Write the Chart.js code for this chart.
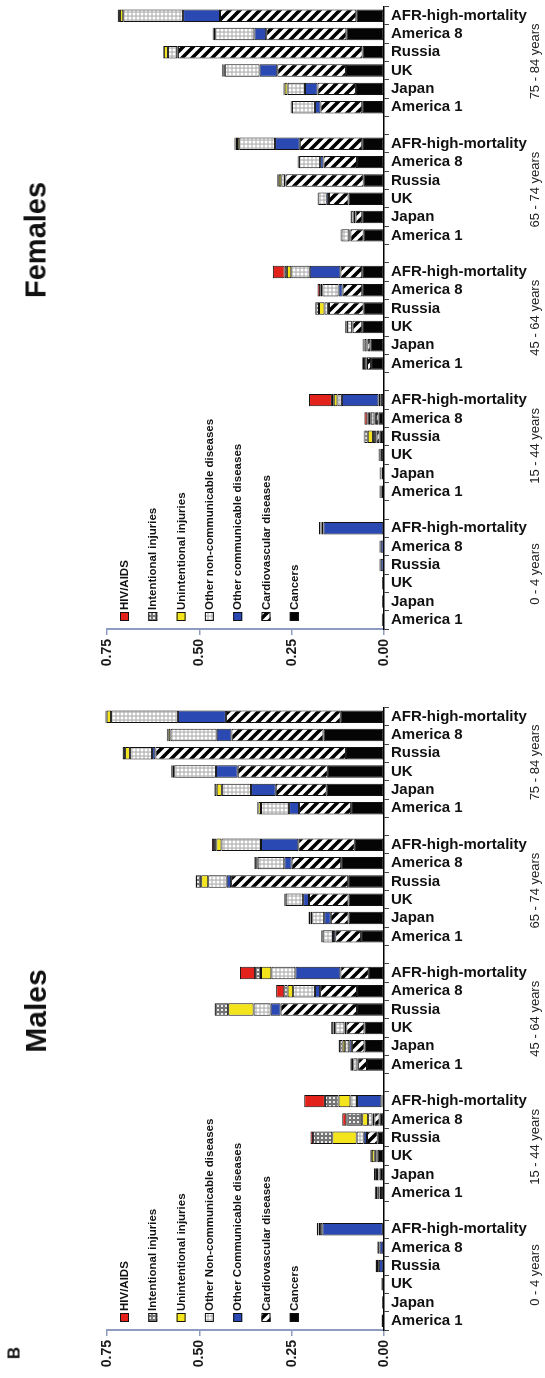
<!DOCTYPE html>
<html>
<head>
<meta charset="utf-8">
<title>Mortality by cause, age group and region</title>
<script src="https://cdn.jsdelivr.net/npm/chart.js@4.4.1/dist/chart.umd.min.js"></script>
<style>
  html, body { margin: 0; padding: 0; background: #fff; }
  #page { position: relative; width: 545px; height: 1378px; overflow: hidden; background: #fff;
          font-family: 'Liberation Sans', Arial, Helvetica, sans-serif; }
  #page canvas { position: absolute; left: 0; }
  #cFemales { top: 0; }
  #cMales { top: 700px; }
  .rot { position: absolute; transform: translate(-50%, -50%) rotate(-90deg); white-space: nowrap;
         font-weight: bold; color: #111; line-height: 1; }
</style>
</head>
<body>
<div id="page">
  <canvas id="cFemales" width="545" height="680"></canvas>
  <canvas id="cMales" width="545" height="678"></canvas>
  <div class="rot" style="left:36px; top:240px; font-size:29px;">Females</div>
  <div class="rot" style="left:36px; top:1011px; font-size:30px;">Males</div>
  <div class="rot" style="left:14px; top:1353px; font-size:17px;">B</div>
</div>
<script>
// Age groups (bottom to top) and regions inside each group (bottom to top)
const ageGroups = ['0 - 4 years', '15 - 44 years', '45 - 64 years', '65 - 74 years', '75 - 84 years'];
const regions = ['America 1', 'Japan', 'UK', 'Russia', 'America 8', 'AFR-high-mortality'];
const valueTicks = [0, 0.25, 0.5, 0.75];

// Males: one value per age group x region, in the order above
const maleCancers       = [0.001,0.001,0.001,0.001,0.001,0.002, 0.008,0.012,0.017,0.017,0.012,0.004, 0.046,0.053,0.053,0.073,0.073,0.041, 0.062,0.096,0.096,0.097,0.116,0.079, 0.089,0.155,0.152,0.103,0.164,0.117];
const maleCardio        = [0,0,0,0.001,0.001,0.001, 0.004,0.003,0.003,0.029,0.014,0.003, 0.024,0.034,0.049,0.207,0.100,0.077, 0.070,0.048,0.107,0.317,0.134,0.153, 0.141,0.138,0.244,0.516,0.249,0.311];
const maleOtherComm     = [0.001,0.001,0.002,0.012,0.010,0.164, 0.002,0.001,0.002,0.009,0.005,0.066, 0.002,0.007,0.005,0.027,0.014,0.122, 0.006,0.018,0.016,0.012,0.020,0.101, 0.027,0.067,0.059,0.009,0.040,0.130];
const maleOtherNonComm  = [0.004,0.003,0.004,0.005,0.004,0.006, 0.003,0.003,0.003,0.019,0.012,0.018, 0.011,0.011,0.025,0.046,0.059,0.065, 0.028,0.032,0.047,0.050,0.072,0.107, 0.076,0.079,0.113,0.060,0.125,0.181];
const maleUnintentional = [0.001,0,0,0.003,0.002,0.004, 0.005,0.003,0.008,0.066,0.016,0.032, 0.004,0.007,0.005,0.069,0.015,0.028, 0.002,0.005,0.002,0.019,0.004,0.014, 0.007,0.014,0.004,0.013,0.006,0.012];
const maleIntentional   = [0,0,0,0.001,0,0.001, 0.003,0.005,0.004,0.052,0.043,0.037, 0.004,0.010,0.006,0.036,0.009,0.016, 0.002,0.005,0.002,0.014,0.003,0.006, 0.003,0.006,0.004,0.006,0.003,0.003];
const maleHiv           = [0,0,0,0,0,0.004, 0,0,0,0.007,0.011,0.056, 0,0.001,0,0.001,0.022,0.041, 0,0.001,0,0.001,0.002,0.006, 0.001,0.001,0.001,0.001,0.001,0.001];

// Females
const femaleCancers       = [0.001,0.001,0.001,0.001,0.001,0.001, 0.006,0.006,0.008,0.012,0.015,0.010, 0.035,0.037,0.059,0.055,0.059,0.059, 0.055,0.059,0.096,0.055,0.073,0.059, 0.059,0.076,0.103,0.058,0.102,0.075];
const femaleCardio        = [0,0,0,0,0,0.001, 0.002,0.001,0.002,0.008,0.007,0.005, 0.011,0.008,0.026,0.094,0.053,0.059, 0.036,0.018,0.053,0.212,0.091,0.169, 0.113,0.104,0.186,0.500,0.217,0.369];
const femaleOtherComm     = [0.001,0.001,0.001,0.008,0.008,0.162, 0.001,0.001,0.001,0.004,0.004,0.099, 0.002,0.002,0.002,0.003,0.011,0.083, 0.003,0.005,0.006,0.001,0.009,0.067, 0.015,0.034,0.048,0.002,0.032,0.100];
const femaleOtherNonComm  = [0.003,0.003,0.003,0.003,0.003,0.005, 0.002,0.002,0.002,0.006,0.010,0.012, 0.006,0.006,0.013,0.009,0.044,0.050, 0.021,0.007,0.023,0.010,0.057,0.097, 0.062,0.047,0.094,0.025,0.106,0.162];
const femaleUnintentional = [0.001,0,0,0.001,0.001,0.002, 0.001,0.001,0.001,0.014,0.005,0.010, 0.003,0.002,0.002,0.015,0.004,0.012, 0.002,0.001,0.001,0.007,0.002,0.006, 0.002,0.008,0.003,0.011,0.004,0.009];
const femaleIntentional   = [0,0,0,0,0,0.001, 0.001,0.001,0.001,0.009,0.004,0.005, 0.002,0.003,0.003,0.010,0.002,0.006, 0.001,0.001,0.001,0.004,0.001,0.004, 0.001,0.003,0.004,0.002,0.002,0.005];
const femaleHiv           = [0,0,0,0,0,0.004, 0,0,0,0.002,0.008,0.062, 0,0,0,0.001,0.007,0.032, 0,0,0,0,0.001,0.003, 0.001,0.001,0.001,0,0.001,0.001];

// Legend names, stacked from the axis outwards
const maleCauseNames = ['Cancers', 'Cardiovascular diseases', 'Other Communicable diseases',
  'Other Non-communicable diseases', 'Unintentional injuries', 'Intentional injuries', 'HIV/AIDS'];
const femaleCauseNames = ['Cancers', 'Cardiovascular diseases', 'Other communicable diseases',
  'Other non-communicable diseases', 'Unintentional injuries', 'Intentional injuries', 'HIV/AIDS'];

const FONT = "'Liberation Sans', Arial, Helvetica, sans-serif";

// ---- fill patterns ----
function tile(size, paint) {
  const c = document.createElement('canvas');
  c.width = size; c.height = size;
  paint(c.getContext('2d'), size);
  return document.createElement('canvas').getContext('2d').createPattern(c, 'repeat');
}
const stripePattern = tile(10, (g, s) => {
  g.fillStyle = '#fff'; g.fillRect(0, 0, s, s);
  g.strokeStyle = '#000'; g.lineWidth = 3.6; g.lineCap = 'square';
  g.beginPath();
  g.moveTo(0, s); g.lineTo(s, 0);
  g.moveTo(-s / 2, s / 2); g.lineTo(s / 2, -s / 2);
  g.moveTo(s / 2, s * 1.5); g.lineTo(s * 1.5, s / 2);
  g.stroke();
});
const dotPattern = tile(4, (g, s) => {
  g.fillStyle = '#bdbdbd'; g.fillRect(0, 0, s, s);
  g.fillStyle = '#fff'; g.beginPath(); g.arc(2, 2, 1.5, 0, Math.PI * 2); g.fill();
});
const checkPattern = tile(4, (g, s) => {
  g.fillStyle = '#767676'; g.fillRect(0, 0, s, s);
  g.fillStyle = '#ececec'; g.fillRect(1, 1, 2, 2);
});

const causeFills = ['#050505', stripePattern, '#2b49b3', dotPattern, '#f3e41c', checkPattern, '#e3221b'];

// ---- category layout: six regions per age group, one blank slot between groups ----
function buildLabels() {
  const out = [];
  ageGroups.forEach((a, gi) => {
    if (gi > 0) out.push('');
    regions.forEach(r => out.push(r));
  });
  return out;
}
function spread(values) {
  const out = [];
  ageGroups.forEach((a, gi) => {
    if (gi > 0) out.push(null);
    for (let k = 0; k < regions.length; k++) out.push(values[gi * regions.length + k]);
  });
  return out;
}
function groupIndex(gi, k) { return gi * (regions.length + 1) + k; }

// Age group captions at the right edge, centred on each group
const ageLabelPlugin = {
  id: 'ageLabels',
  afterDraw(chart) {
    const ys = chart.scales.y, c = chart.ctx;
    c.save();
    c.font = '13px ' + FONT;
    c.fillStyle = '#222';
    c.textAlign = 'center';
    c.textBaseline = 'middle';
    ageGroups.forEach((a, gi) => {
      const y0 = ys.getPixelForValue(groupIndex(gi, 0));
      const y1 = ys.getPixelForValue(groupIndex(gi, regions.length - 1));
      c.save();
      c.translate(chart.width - 10, (y0 + y1) / 2);
      c.rotate(-Math.PI / 2);
      c.fillText(a, 0, 0);
      c.restore();
    });
    c.restore();
  }
};

// Vertical legend inside the plot, outermost cause first
const sideLegendPlugin = {
  id: 'sideLegend',
  afterDraw(chart) {
    const area = chart.chartArea, c = chart.ctx, sw = 9;
    const items = chart.data.datasets.slice().reverse();
    c.save();
    items.forEach((d, i) => {
      const cx = area.left + 17.5 + i * 28.3;
      const bottom = area.bottom - 8;
      c.fillStyle = d.backgroundColor;
      c.fillRect(cx - sw / 2, bottom - sw, sw, sw);
      c.strokeStyle = '#111';
      c.lineWidth = 1;
      c.strokeRect(cx - sw / 2 + 0.5, bottom - sw + 0.5, sw - 1, sw - 1);
      c.save();
      c.translate(cx, bottom - sw - 2);
      c.rotate(-Math.PI / 2);
      c.font = 'bold 11.5px ' + FONT;
      c.fillStyle = '#111';
      c.textAlign = 'left';
      c.textBaseline = 'middle';
      c.fillText(d.label, 0, 0.5);
      c.restore();
    });
    c.restore();
  }
};

function makeChart(canvasId, names, series, padTop, axisHeight) {
  const datasets = series.map((vals, i) => ({
    label: names[i],
    data: spread(vals),
    backgroundColor: causeFills[i]
  }));
  return new Chart(document.getElementById(canvasId), {
    type: 'bar',
    data: { labels: buildLabels(), datasets },
    options: {
      indexAxis: 'y',
      responsive: false,
      animation: false,
      devicePixelRatio: 1,
      events: [],
      layout: { padding: { left: 107, top: padTop, right: 0, bottom: 0 } },
      datasets: {
        bar: { barPercentage: 0.68, categoryPercentage: 1, borderWidth: 1, borderColor: '#111',
               borderSkipped: false, clip: false }
      },
      plugins: { legend: { display: false }, tooltip: { enabled: false } },
      scales: {
        x: {
          type: 'linear', stacked: true, reverse: true, position: 'bottom',
          min: valueTicks[0], max: valueTicks[valueTicks.length - 1],
          afterFit: s => { s.height = axisHeight; s.paddingLeft = 0; s.paddingRight = 0; },
          afterBuildTicks: s => { s.ticks = valueTicks.map(v => ({ value: v })); },
          ticks: {
            minRotation: 90, maxRotation: 90, padding: 4, color: '#1a1a1a',
            font: { family: FONT, size: 14, weight: 'bold' },
            callback: v => Number(v).toFixed(2)
          },
          grid: { drawOnChartArea: false, drawTicks: true, tickLength: 6, color: '#8d9cc0', lineWidth: 1.5 },
          border: { display: true, color: '#8d9cc0', width: 2 }
        },
        y: {
          type: 'category', stacked: true, reverse: true, position: 'right', offset: true,
          afterFit: s => { s.width = 161; s.paddingTop = 0; s.paddingBottom = 0; },
          ticks: { autoSkip: false, padding: 2, color: '#111', font: { family: FONT, size: 15, weight: 'bold' } },
          grid: { offset: true, drawOnChartArea: false, tickLength: 5, color: '#444', lineWidth: 1 },
          border: { display: true, color: '#000', width: 1.5 }
        }
      }
    },
    plugins: [ageLabelPlugin, sideLegendPlugin]
  });
}

makeChart('cFemales', femaleCauseNames,
  [femaleCancers, femaleCardio, femaleOtherComm, femaleOtherNonComm, femaleUnintentional, femaleIntentional, femaleHiv],
  6.5, 51);
makeChart('cMales', maleCauseNames,
  [maleCancers, maleCardio, maleOtherComm, maleOtherNonComm, maleUnintentional, maleIntentional, maleHiv],
  7.5, 48);
</script>
</body>
</html>
